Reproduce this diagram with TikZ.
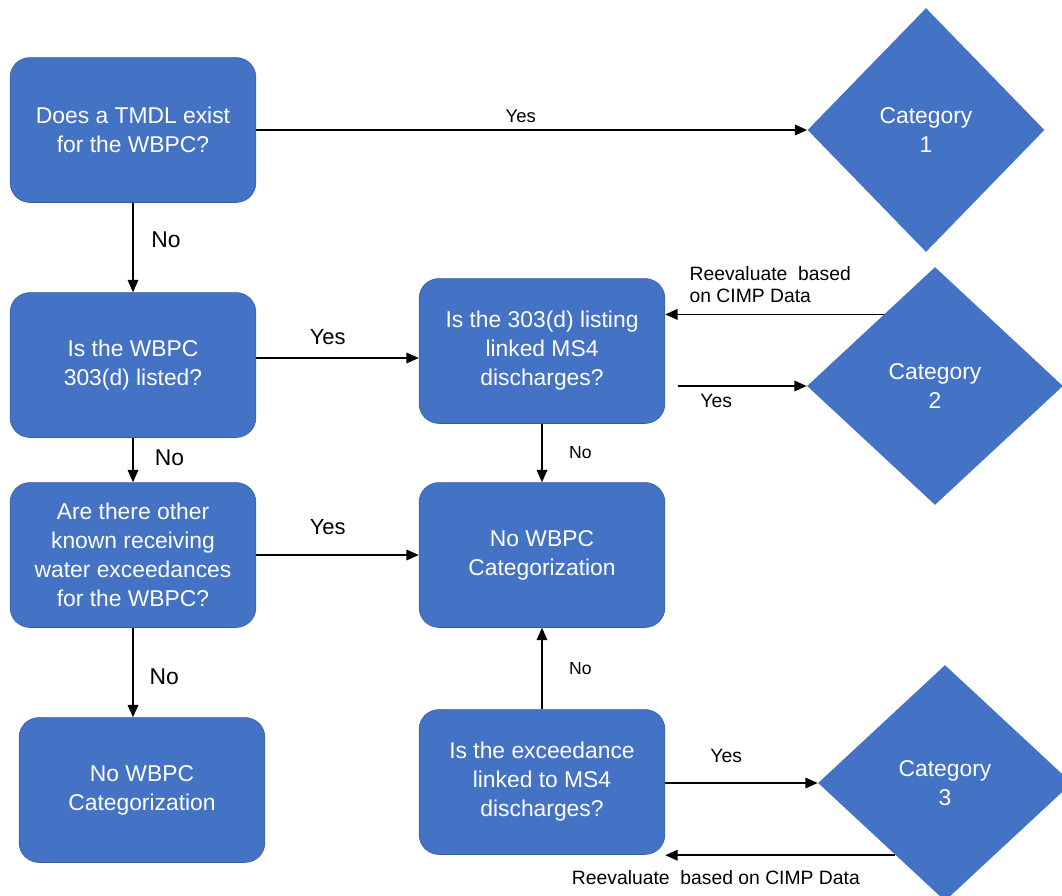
\documentclass[tikz,border=0pt]{standalone}
\usepackage{fontspec}
\setmainfont{Liberation Sans}
\usetikzlibrary{shapes.geometric,arrows.meta,calc}
\definecolor{boxblue}{HTML}{4472C4}

\begin{document}
\begin{tikzpicture}[x=0.02cm, y=-0.02cm,
	qbox/.style={rectangle, rounded corners=0.4cm, fill=boxblue, draw=boxblue!80!black, line width=0.3pt,
		minimum width=4.92cm, minimum height=2.9cm, align=center, text=white,
		font=\fontsize{13}{16.5}\selectfont},
	catdia/.style={diamond, fill=boxblue, text=white, align=center, inner sep=0pt,
		font=\fontsize{13}{16.5}\selectfont},
	arr/.style={-{Triangle[length=7pt,width=6pt]}, line width=0.9pt},
	lab/.style={font=\fontsize{#1}{13}\selectfont, inner sep=1pt},
	lab/.default=11]

\useasboundingbox (0,0) rectangle (1062,896);
\clip (0,0) rectangle (1062,896);

% Preguntas
\node[qbox] (tmdl)    at (133,130) {Does a TMDL exist\\for the WBPC?};
\node[qbox] (listed)  at (133,365) {Is the WBPC\\303(d) listed?};
\node[qbox] (other)   at (133,555) {Are there other\\known receiving\\water exceedances\\for the WBPC?};
\node[qbox] (nocatA)  at (142,790) {No WBPC\\Categorization};
\node[qbox] (linked)  at (542,351) {Is the 303(d) listing\\linked MS4\\discharges?};
\node[qbox] (nocatB)  at (542,555) {No WBPC\\Categorization};
\node[qbox] (exceed)  at (542,782) {Is the exceedance\\linked to MS4\\discharges?};

% Categorias
\node[catdia, minimum width=4.74cm, minimum height=4.88cm] (cat1) at (926,130) {Category\\1};
\node[catdia, minimum width=5.12cm, minimum height=4.76cm] (cat2) at (935,386) {Category\\2};
\node[catdia, minimum width=5.08cm, minimum height=4.72cm] (cat3) at (945,783) {Category\\3};

% Flechas
\draw[arr] (tmdl) -- node[lab=10.5, above=3pt, pos=0.48] {Yes} (cat1);
\draw[arr] (tmdl) -- node[lab=13, right=9pt, pos=0.41] {No} (listed);
\draw[arr] (listed) -- node[lab=13, right=11pt, pos=0.45] {No} (other);
\draw[arr] (other) -- node[lab=13, right=8pt, pos=0.55] {No} (other |- nocatA.north);

\coordinate (y2) at (0,358);
\draw[arr] (listed.east |- y2) -- node[lab=12.5, above=6pt, pos=0.44] {Yes} (linked.west |- y2);
\draw[arr] (other) -- node[lab=12.5, above=10pt, pos=0.44] {Yes} (nocatB);

\draw[arr] (linked) -- node[lab=10, right=14pt] {No} (nocatB);
\draw[arr] (exceed) -- node[lab=10, right=14pt] {No} (nocatB);

\draw[arr, shorten <=7pt] (linked.east |- cat2.west) -- node[lab=11, below=3pt, pos=0.36] {Yes} (cat2.west);
\draw[arr] (exceed.east |- cat3.west) -- node[lab=11, above=10pt, pos=0.4] {Yes} (cat3.west);

% Reevaluar
\coordinate (back2) at ($(cat2.north)!0.4!(cat2.west)$);
\draw[arr] (back2) -- node[lab=11, pos=0.9, anchor=south west, align=left, yshift=5pt] {Reevaluate\ \ based\\on CIMP Data} (back2 -| linked.east);
\coordinate (back3) at ($(cat3.west)!0.61!(cat3.south)$);
\draw[arr] (back3) -- node[lab=11, pos=0.78, below=7pt] {Reevaluate\ \ based on CIMP Data} (back3 -| exceed.east);

\end{tikzpicture}
\end{document}
